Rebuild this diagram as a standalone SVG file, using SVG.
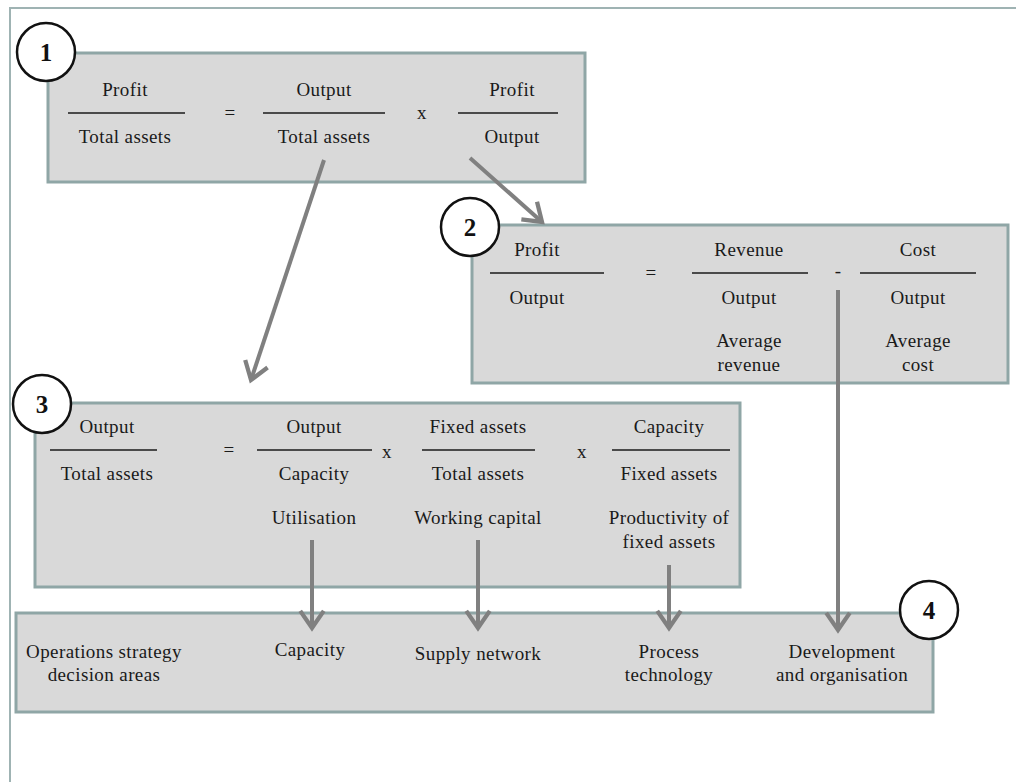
<svg xmlns="http://www.w3.org/2000/svg" width="1016" height="782" viewBox="0 0 1016 782">
  <style>
    .box { fill: #d9d9d9; stroke: #8fa6a6; stroke-width: 3; }
    .frame { fill: none; stroke: #9fb3b3; stroke-width: 2; }
    .t { font-family: "Liberation Serif", "DejaVu Serif", serif; font-size: 19px; letter-spacing: 0.4px; fill: #1a1a1a; text-anchor: middle; }
    .bar { stroke: #1a1a1a; stroke-width: 1.5; }
    .badge { fill: #fff; stroke: #111; stroke-width: 2.5; }
    .num { font-family: "Liberation Serif", "DejaVu Serif", serif; font-size: 25px; font-weight: bold; fill: #111; text-anchor: middle; }
    .conn { stroke: #808080; stroke-width: 4; fill: none; marker-end: url(#chev); }
  </style>
  <defs>
    <marker id="chev" markerUnits="userSpaceOnUse" markerWidth="30" markerHeight="30" viewBox="-20 -14 24 28" refX="0" refY="0" orient="auto">
      <path d="M-16,-11 L0,0 L-16,11" fill="none" stroke="#808080" stroke-width="4" stroke-linejoin="miter"/>
    </marker>
  </defs>

  <rect width="1016" height="782" fill="#fff"/>
  <!-- outer frame: top and left edges only -->
  <path class="frame" d="M10,782 V8 H1016"/>

  <!-- 1: return on assets -->
  <g id="node1">
    <rect class="box" x="48" y="53" width="537" height="129"/>
    <text class="t" x="125" y="96">Profit</text>
    <line class="bar" x1="68" y1="113" x2="185" y2="113"/>
    <text class="t" x="125" y="143">Total assets</text>
    <text class="t" x="230" y="119">=</text>
    <text class="t" x="324" y="96">Output</text>
    <line class="bar" x1="263" y1="113" x2="385" y2="113"/>
    <text class="t" x="324" y="143">Total assets</text>
    <text class="t" x="422" y="119">x</text>
    <text class="t" x="512" y="96">Profit</text>
    <line class="bar" x1="458" y1="113" x2="558" y2="113"/>
    <text class="t" x="512" y="143">Output</text>
    <circle class="badge" cx="46" cy="52" r="29"/>
    <text class="num" x="46" y="61">1</text>
  </g>

  <!-- 2: profit per unit of output -->
  <g id="node2">
    <rect class="box" x="472" y="225" width="536" height="158"/>
    <text class="t" x="537" y="256">Profit</text>
    <line class="bar" x1="490" y1="273" x2="604" y2="273"/>
    <text class="t" x="537" y="304">Output</text>
    <text class="t" x="651" y="279">=</text>
    <text class="t" x="749" y="256">Revenue</text>
    <line class="bar" x1="692" y1="273" x2="808" y2="273"/>
    <text class="t" x="749" y="304">Output</text>
    <text class="t" x="749" y="347">Average</text>
    <text class="t" x="749" y="371">revenue</text>
    <text class="t" x="838" y="277">-</text>
    <text class="t" x="918" y="256">Cost</text>
    <line class="bar" x1="860" y1="273" x2="976" y2="273"/>
    <text class="t" x="918" y="304">Output</text>
    <text class="t" x="918" y="347">Average</text>
    <text class="t" x="918" y="371">cost</text>
    <circle class="badge" cx="470" cy="227" r="29"/>
    <text class="num" x="470" y="236">2</text>
  </g>

  <!-- 3: asset turnover breakdown -->
  <g id="node3">
    <rect class="box" x="35" y="403" width="705" height="184"/>
    <text class="t" x="107" y="433">Output</text>
    <line class="bar" x1="50" y1="450" x2="157" y2="450"/>
    <text class="t" x="107" y="480">Total assets</text>
    <text class="t" x="229" y="456">=</text>
    <text class="t" x="314" y="433">Output</text>
    <line class="bar" x1="257" y1="450" x2="372" y2="450"/>
    <text class="t" x="314" y="480">Capacity</text>
    <text class="t" x="314" y="524">Utilisation</text>
    <text class="t" x="387" y="458">x</text>
    <text class="t" x="478" y="433">Fixed assets</text>
    <line class="bar" x1="422" y1="450" x2="535" y2="450"/>
    <text class="t" x="478" y="480">Total assets</text>
    <text class="t" x="478" y="524">Working capital</text>
    <text class="t" x="582" y="458">x</text>
    <text class="t" x="669" y="433">Capacity</text>
    <line class="bar" x1="612" y1="450" x2="730" y2="450"/>
    <text class="t" x="669" y="480">Fixed assets</text>
    <text class="t" x="669" y="524">Productivity of</text>
    <text class="t" x="669" y="548">fixed assets</text>
    <circle class="badge" cx="42" cy="404" r="29"/>
    <text class="num" x="42" y="413">3</text>
  </g>

  <!-- 4: decision areas -->
  <g id="node4">
    <rect class="box" x="16" y="613" width="917" height="99"/>
    <text class="t" x="104" y="658">Operations strategy</text>
    <text class="t" x="104" y="681">decision areas</text>
    <text class="t" x="310" y="656">Capacity</text>
    <text class="t" x="478" y="660">Supply network</text>
    <text class="t" x="669" y="658">Process</text>
    <text class="t" x="669" y="681">technology</text>
    <text class="t" x="842" y="658">Development</text>
    <text class="t" x="842" y="681">and organisation</text>
    <circle class="badge" cx="929" cy="610" r="29"/>
    <text class="num" x="929" y="619">4</text>
  </g>

  <g id="connectors">
    <line class="conn" x1="324" y1="160" x2="251" y2="380"/>
    <line class="conn" x1="470" y1="158" x2="542" y2="222"/>
    <line class="conn" x1="838" y1="290" x2="838" y2="630"/>
    <line class="conn" x1="312" y1="540" x2="312" y2="628"/>
    <line class="conn" x1="478" y1="540" x2="478" y2="628"/>
    <line class="conn" x1="669" y1="565" x2="669" y2="628"/>
  </g>
</svg>
